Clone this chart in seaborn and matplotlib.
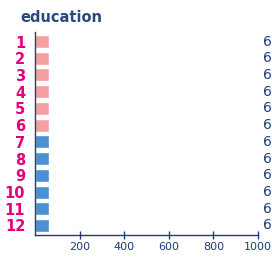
import matplotlib
matplotlib.use("Agg")
import matplotlib.pyplot as plt
import seaborn as sns
import pandas as pd
from matplotlib import font_manager

categories = ["1", "2", "3", "4", "5", "6", "7", "8", "9", "10", "11", "12"]
values = [62, 62, 62, 62, 62, 62, 62, 62, 62, 62, 62, 62]
groups = ["a"] * 6 + ["b"] * 6
x_ticks = [200, 400, 600, 800, 1000]
title = "education"

sns.set_theme(style="white")
names = {f.name for f in font_manager.fontManager.ttflist}
narrow = "Liberation Sans Narrow" if "Liberation Sans Narrow" in names else "DejaVu Sans"
plt.rcParams["font.family"] = ["DejaVu Sans"]

navy = "#1f3d78"
magenta = "#e4007c"
pal = {"a": "#f4a09e", "b": "#4a90d3"}

df = pd.DataFrame({"cat": categories, "val": values, "grp": groups})

fig = plt.figure(figsize=(2.72, 2.57), dpi=100)
ax = fig.add_axes([35 / 272, 1 - 235 / 257, 223 / 272, 203 / 257])
sns.barplot(data=df, x="val", y="cat", hue="grp", palette=pal, dodge=False,
            legend=False, width=0.78, saturation=1, ax=ax, orient="h")

ax.set_xlim(0, 1000)
ax.set_ylim(len(categories) - 0.43, -0.57)
ax.set_xticks(x_ticks)
ax.set_xticklabels([str(t) for t in x_ticks], fontsize=8, color=navy, family=narrow)
ax.tick_params(axis="x", direction="inout", length=6, width=1, color=navy, pad=2, bottom=True)
ax.tick_params(axis="y", length=0, pad=7)
for lab in ax.get_yticklabels():
    lab.set_color(magenta)
    lab.set_fontweight("bold")
    lab.set_fontsize(10.5)
ax.set_xlabel("")
ax.set_ylabel("")
for s in ["top", "right"]:
    ax.spines[s].set_visible(False)
for s in ["left", "bottom"]:
    ax.spines[s].set_color(navy)
    ax.spines[s].set_linewidth(1)
ax.grid(False)

for i, v in enumerate(values):
    ax.annotate(str(v), xy=(1000, i), xytext=(3.5, 0), textcoords="offset points",
                va="center", ha="left", fontsize=10, color=navy, annotation_clip=False)

fig.text(20 / 272, 1 - 22 / 257, title, fontsize=10.5, fontweight="bold", color="#2b4a7c",
         ha="left", va="baseline")

fig.savefig("out.png", dpi=100)
